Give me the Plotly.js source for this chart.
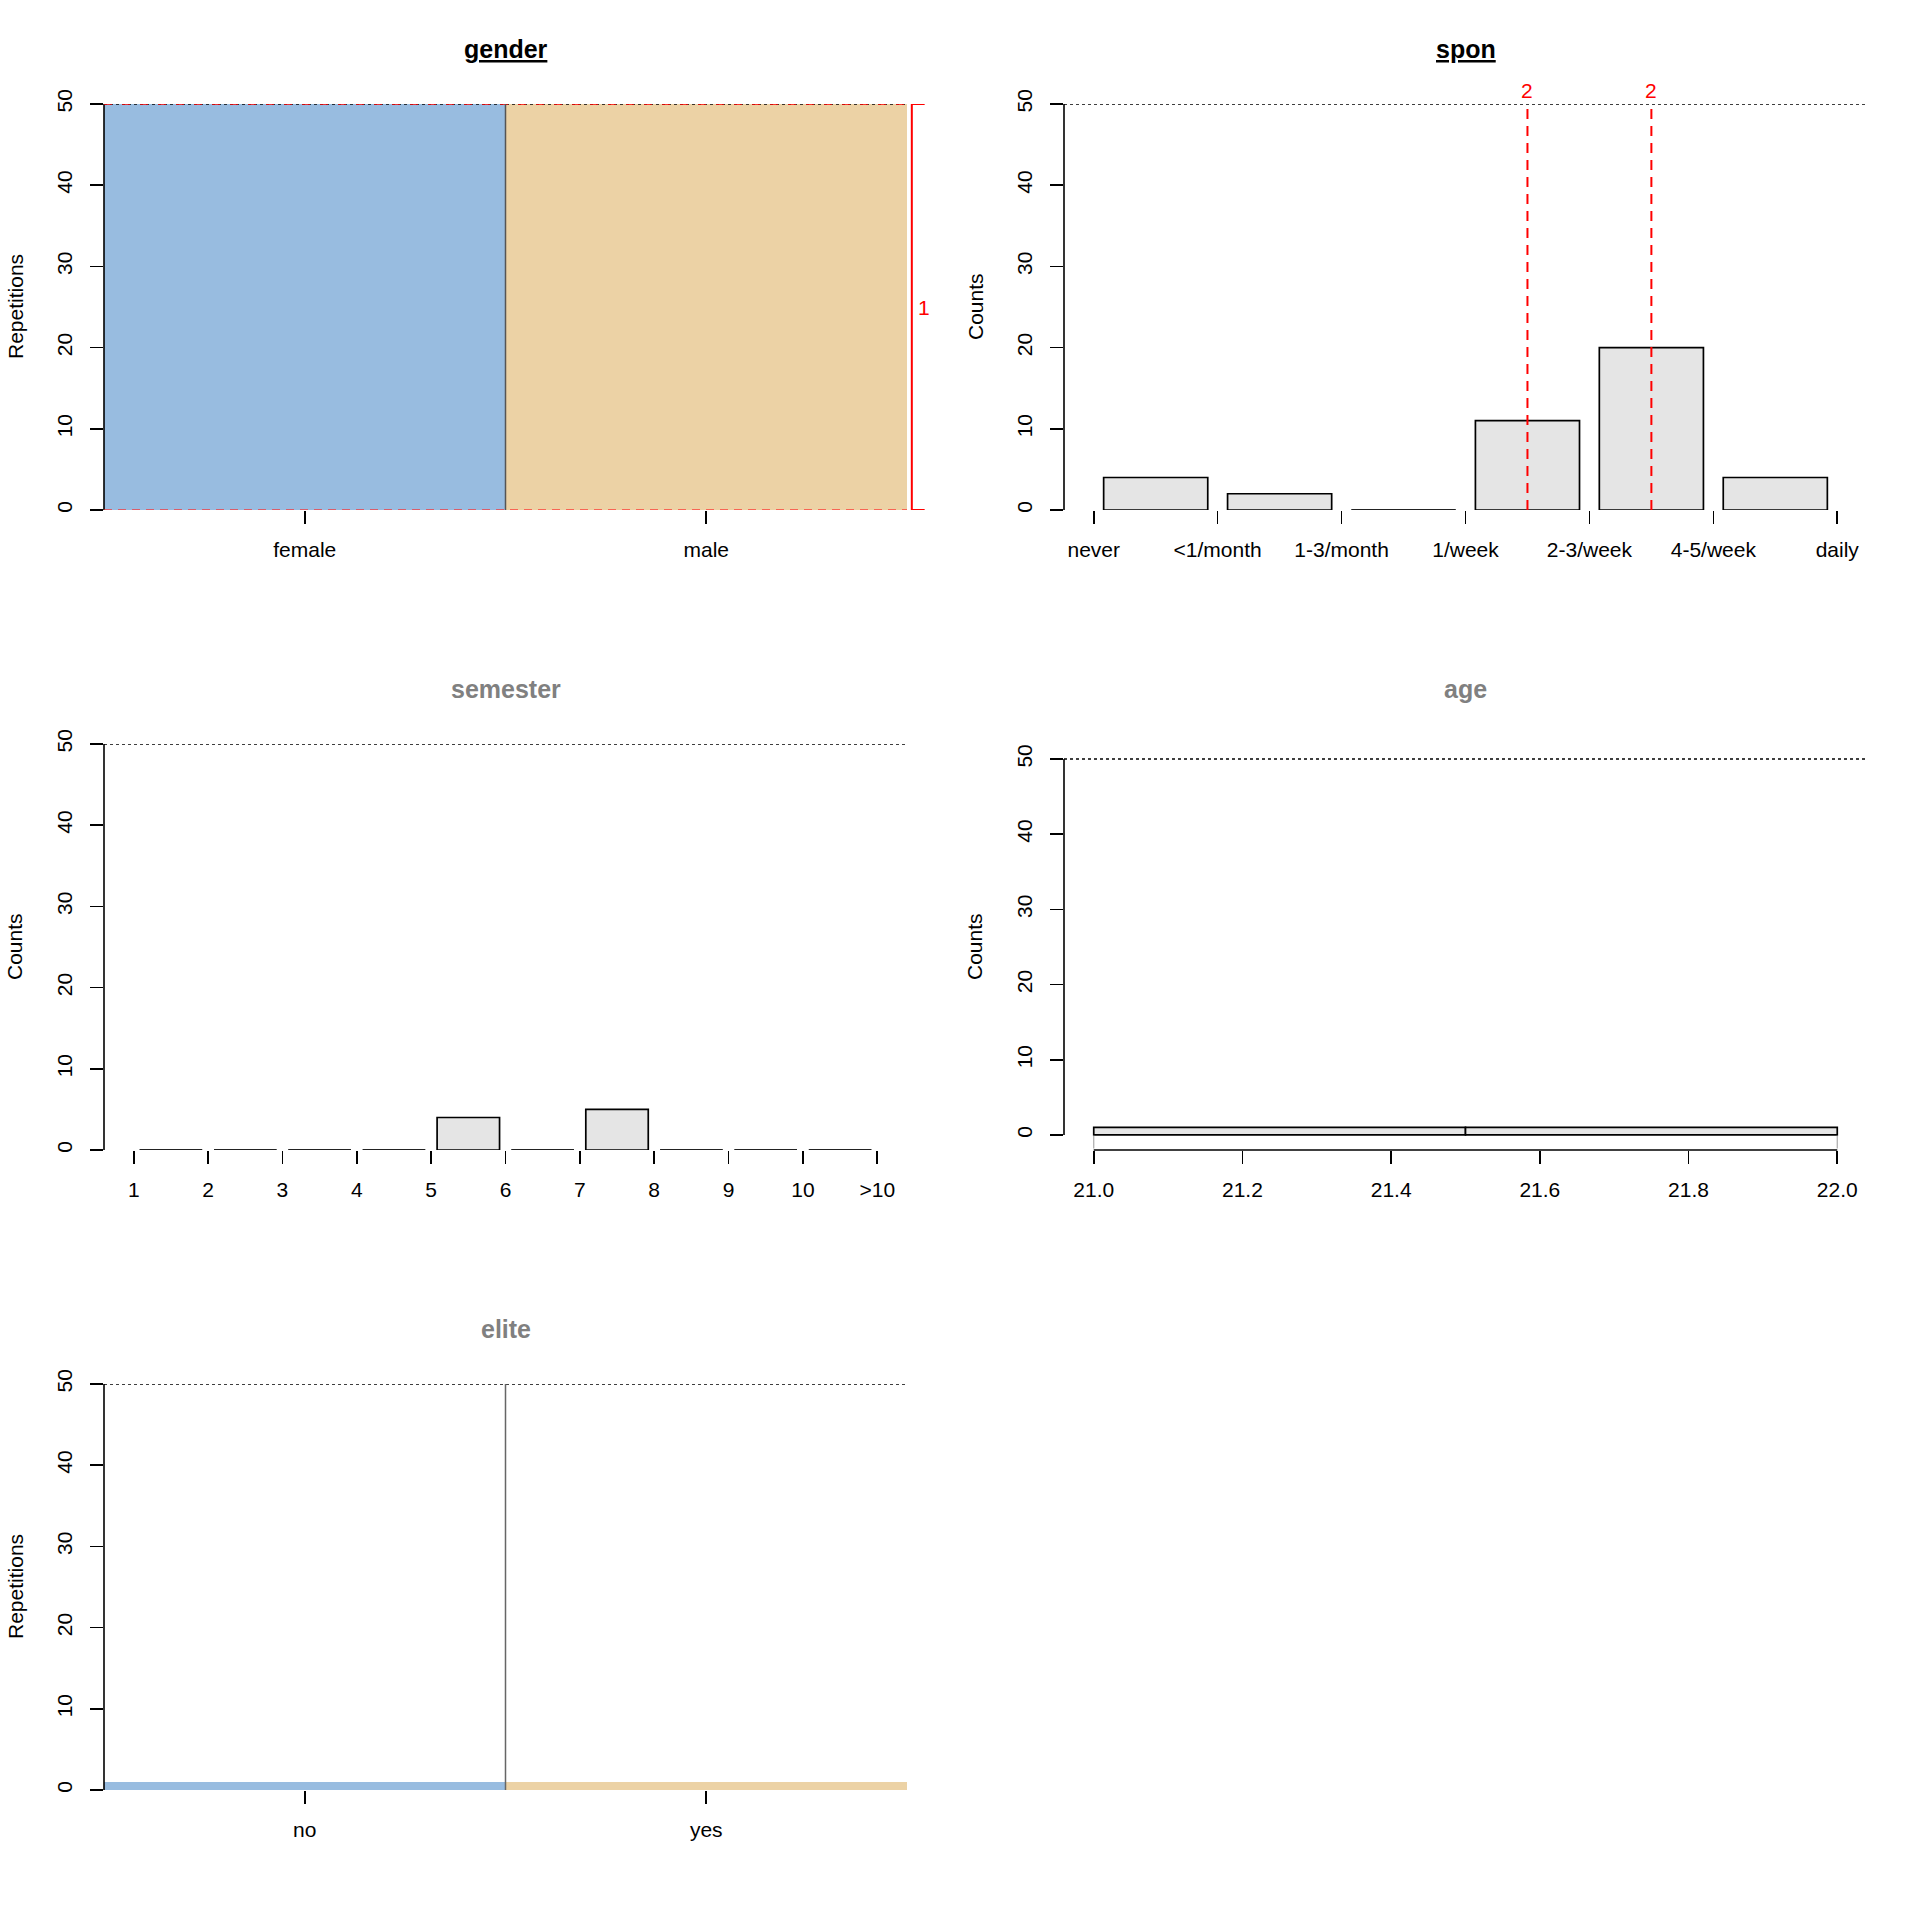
<!DOCTYPE html>
<html>
<head>
<meta charset="utf-8">
<script src="https://cdn.plot.ly/plotly-3.0.1.min.js"></script>
<style>
  html, body { margin: 0; padding: 0; background: #fff; }
  #chart { width: 1920px; height: 1920px; }
</style>
</head>
<body>
<div id="chart"></div>
<script>
/* global Plotly */

// data
const countLimit = 50;

const genderLevels = ['female', 'male'];
const genderCounts = [50, 50];
const genderBracketLabel = '1';

const sponLevels = ['never', '<1/month', '1-3/month', '1/week', '2-3/week', '4-5/week', 'daily'];
const sponCounts = [4, 2, 0, 11, 20, 4];
const sponMarkBins = [3, 4];
const sponMarkLabels = ['2', '2'];

const semesterLevels = ['1', '2', '3', '4', '5', '6', '7', '8', '9', '10', '>10'];
const semesterCounts = [0, 0, 0, 0, 4, 0, 5, 0, 0, 0];

const ageBreaks = [21.0, 21.5, 22.0];
const ageCounts = [1, 1];

const eliteLevels = ['no', 'yes'];
const eliteCounts = [1, 1];

const BLUE = '#98BCE0';
const TAN = '#ECD2A5';
const GREY_FILL = '#E5E5E5';
const FONT = 'Liberation Sans, Arial, Helvetica, sans-serif';
const PX = 1920;

// panel geometry (pixels of the 1920 page)
const colPx = [[104, 907], [1064, 1867]];
const rowTopPx = [104, 744, 1384];
const plotH = 406;

const xDom = (c) => [colPx[c][0] / PX, colPx[c][1] / PX];
const yDom = (r) => [1 - (rowTopPx[r] + plotH) / PX, 1 - rowTopPx[r] / PX];

function yAxis(dom, anchor, range) {
  return {
    domain: dom,
    anchor,
    range,
    tickvals: [0, 10, 20, 30, 40, 50],
    ticks: 'outside',
    ticklen: 13,
    tickwidth: 1.6,
    tickcolor: '#000',
    tickangle: -90,
    ticklabelstandoff: 10,
    tickfont: { size: 21, color: '#000' },
    showgrid: false,
    zeroline: false,
    showline: false,
    fixedrange: true,
  };
}

function xAxis(dom, anchor, range, extra) {
  return Object.assign({
    domain: dom,
    anchor,
    range,
    ticks: 'outside',
    ticklen: 13,
    tickwidth: 1.6,
    tickcolor: '#000',
    ticklabelstandoff: 8,
    tickfont: { size: 21, color: '#000' },
    showgrid: false,
    zeroline: false,
    showline: false,
    fixedrange: true,
  }, extra);
}

// bars between tick i+1 and i+2
const binCenters = (counts) => counts.map((v, i) => i + 1.5);

// zero height bars are blank in plotly, so draw them as flat segments
function zeroSegments(counts, half, xa, ya) {
  const xs = [];
  const ys = [];
  counts.forEach((v, i) => {
    if (v === 0) {
      xs.push(i + 1.5 - half, i + 1.5 + half, null);
      ys.push(0, 0, null);
    }
  });
  return {
    type: 'scatter', mode: 'lines', x: xs, y: ys, xaxis: xa, yaxis: ya,
    line: { color: '#222', width: 2.2 }, hoverinfo: 'skip', showlegend: false,
  };
}

const barWidth = 0.84;
const barLine = { color: '#000', width: 1.7 };

const traces = [
  {
    type: 'bar',
    x: genderLevels.map((l, i) => i + 0.5),
    y: genderCounts,
    width: 1,
    marker: { color: [BLUE, TAN], line: { width: 0 } },
    xaxis: 'x', yaxis: 'y',
  },
  {
    type: 'bar',
    x: binCenters(sponCounts),
    y: sponCounts,
    width: barWidth,
    marker: { color: GREY_FILL, line: barLine },
    xaxis: 'x2', yaxis: 'y2',
  },
  zeroSegments(sponCounts, barWidth / 2, 'x2', 'y2'),
  {
    type: 'bar',
    x: binCenters(semesterCounts),
    y: semesterCounts,
    width: barWidth,
    marker: { color: GREY_FILL, line: barLine },
    xaxis: 'x3', yaxis: 'y3',
  },
  zeroSegments(semesterCounts, barWidth / 2, 'x3', 'y3'),
  {
    type: 'bar',
    x: ageCounts.map((v, i) => (ageBreaks[i] + ageBreaks[i + 1]) / 2),
    y: ageCounts,
    width: ageCounts.map((v, i) => ageBreaks[i + 1] - ageBreaks[i]),
    marker: { color: GREY_FILL, line: barLine },
    xaxis: 'x4', yaxis: 'y4',
  },
  {
    type: 'bar',
    x: eliteLevels.map((l, i) => i + 0.5),
    y: eliteCounts,
    width: 1,
    marker: { color: [BLUE, TAN], line: { width: 0 } },
    xaxis: 'x5', yaxis: 'y5',
  },
];
traces.forEach((t) => { t.showlegend = false; t.hoverinfo = 'skip'; });

const shapes = [];
function line(xref, yref, x0, y0, x1, y1, color, width, dash) {
  shapes.push({
    type: 'line', xref, yref, x0, y0, x1, y1,
    line: { color, width, dash: dash || 'solid' },
  });
}

const panels = [['x', 'y'], ['x2', 'y2'], ['x3', 'y3'], ['x4', 'y4'], ['x5', 'y5']];
panels.forEach(([xa, ya]) => {
  // y axis line only spans 0..limit
  line(`${xa} domain`, ya, 0, 0, 0, countLimit, '#000', 1.6);
  // dotted limit line
  line(`${xa} domain`, ya, 0, countLimit, 1, countLimit, '#000', 1.5, 'dot');
});

// gender: red dashed limits, separator and bracket
line('x domain', 'y', 0, countLimit, 1, countLimit, '#FF0000', 1.6, '8px,10px');
line('x domain', 'y', 0, 0, 1, 0, 'rgba(255,40,40,0.85)', 1.6, '8px,6px');
line('x', 'y', 1, 0, 1, countLimit, '#555', 1.5);
line('x domain', 'y', 1.006, 0, 1.006, countLimit, '#FF0000', 2);
line('x domain', 'y', 1.006, 0, 1.022, 0, '#FF0000', 2);
line('x domain', 'y', 1.006, countLimit, 1.022, countLimit, '#FF0000', 2);

// spon: red dashed marks
sponMarkBins.forEach((b) => {
  line('x2', 'y2', b + 1.5, 0, b + 1.5, countLimit, '#FF0000', 2, '10px,7px');
});

// age: axis line over the breaks and grey end stubs
const ageLo = ageBreaks[0];
const ageHi = ageBreaks[ageBreaks.length - 1];
line('x4', 'y4 domain', ageLo, 0, ageHi, 0, '#000', 1.6);
line('x4', 'y4', ageLo, -1.8, ageLo, -0.1, '#AAAAAA', 1.2);
line('x4', 'y4', ageHi, -1.8, ageHi, -0.1, '#AAAAAA', 1.2);

// elite separator
line('x5', 'y5', 1, 0, 1, countLimit, '#666', 1.5);

const annotations = [];
function title(text, col, row, color, underline) {
  const inner = underline ? `<span style="text-decoration:underline">${text}</span>` : text;
  annotations.push({
    xref: 'paper', yref: 'paper',
    x: (xDom(col)[0] + xDom(col)[1]) / 2,
    y: 1 - (49 + 640 * row) / PX,
    xanchor: 'center', yanchor: 'middle',
    text: `<b>${inner}</b>`,
    showarrow: false,
    font: { size: 25, color },
  });
}
function yTitle(text, col, row) {
  const d = yDom(row);
  annotations.push({
    xref: 'paper', yref: 'paper',
    x: (15 + 960 * col) / PX,
    y: (d[0] + d[1]) / 2,
    xanchor: 'center', yanchor: 'middle',
    text,
    textangle: -90,
    showarrow: false,
    font: { size: 21, color: '#000' },
  });
}

title('gender', 0, 0, '#000', true);
title('spon', 1, 0, '#000', true);
title('semester', 0, 1, '#808080', false);
title('age', 1, 1, '#808080', false);
title('elite', 0, 2, '#808080', false);

yTitle('Repetitions', 0, 0);
yTitle('Counts', 1, 0);
yTitle('Counts', 0, 1);
yTitle('Counts', 1, 1);
yTitle('Repetitions', 0, 2);

annotations.push({
  xref: 'x domain', yref: 'y',
  x: 1.021, y: countLimit / 2,
  xanchor: 'center', yanchor: 'middle',
  text: genderBracketLabel,
  showarrow: false,
  font: { size: 21, color: '#FF0000' },
});

sponMarkBins.forEach((b, i) => {
  annotations.push({
    xref: 'x2', yref: 'y2',
    x: b + 1.5, y: countLimit,
    xanchor: 'center', yanchor: 'bottom',
    text: sponMarkLabels[i],
    showarrow: false,
    font: { size: 21, color: '#FF0000' },
  });
});

const layout = {
  width: 1920,
  height: 1920,
  margin: { l: 0, r: 0, t: 0, b: 0 },
  paper_bgcolor: '#fff',
  plot_bgcolor: 'rgba(0,0,0,0)',
  font: { family: FONT, size: 21, color: '#000' },
  showlegend: false,
  hovermode: false,
  barmode: 'overlay',

  xaxis: xAxis(xDom(0), 'y', [0, 2], {
    tickvals: genderLevels.map((l, i) => i + 0.5), ticktext: genderLevels,
  }),
  yaxis: yAxis(yDom(0), 'x', [0, countLimit]),

  xaxis2: xAxis(xDom(1), 'y2', [0.76, 7.24], {
    tickvals: sponLevels.map((l, i) => i + 1), ticktext: sponLevels,
  }),
  yaxis2: yAxis(yDom(0), 'x2', [0, countLimit]),

  xaxis3: xAxis(xDom(0), 'y3', [0.6, 11.4], {
    tickvals: semesterLevels.map((l, i) => i + 1), ticktext: semesterLevels,
  }),
  yaxis3: yAxis(yDom(1), 'x3', [0, countLimit]),

  xaxis4: xAxis(xDom(1), 'y4', [20.96, 22.04], {
    tick0: 21, dtick: 0.2, tickformat: '.1f',
  }),
  yaxis4: yAxis(yDom(1), 'x4', [-2, 52]),

  xaxis5: xAxis(xDom(0), 'y5', [0, 2], {
    tickvals: eliteLevels.map((l, i) => i + 0.5), ticktext: eliteLevels,
  }),
  yaxis5: yAxis(yDom(2), 'x5', [0, countLimit]),

  shapes,
  annotations,
};

Plotly.newPlot('chart', traces, layout, { staticPlot: true, displayModeBar: false });
</script>
</body>
</html>
